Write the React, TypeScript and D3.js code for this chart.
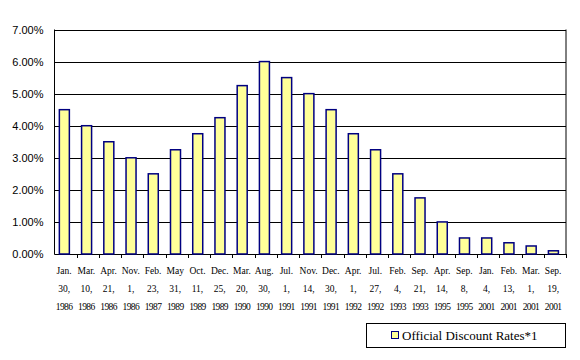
import React from "react";
import * as d3 from "d3";

const months = ["Jan.", "Mar.", "Apr.", "Nov.", "Feb.", "May", "Oct.", "Dec.", "Mar.", "Aug.", "Jul.", "Nov.", "Dec.", "Apr.", "Jul.", "Feb.", "Sep.", "Apr.", "Sep.", "Jan.", "Feb.", "Mar.", "Sep."];
const days = ["30,", "10,", "21,", "1,", "23,", "31,", "11,", "25,", "20,", "30,", "1,", "14,", "30,", "1,", "27,", "4,", "21,", "14,", "8,", "4,", "13,", "1,", "19,"];
const years = ["1986", "1986", "1986", "1986", "1987", "1989", "1989", "1989", "1990", "1990", "1991", "1991", "1991", "1992", "1992", "1993", "1993", "1995", "1995", "2001", "2001", "2001", "2001"];
const rates = [4.5, 4.0, 3.5, 3.0, 2.5, 3.25, 3.75, 4.25, 5.25, 6.0, 5.5, 5.0, 4.5, 3.75, 3.25, 2.5, 1.75, 1.0, 0.5, 0.5, 0.35, 0.25, 0.1];
const yTicks = [0, 1, 2, 3, 4, 5, 6, 7];

const App = () => {
  const width = 580;
  const height = 360;
  const margin = { top: 29.5, right: 14, bottom: 106, left: 54.5 };
  const ids = rates.map((_, i) => String(i));

  const x = d3
    .scaleBand()
    .domain(ids)
    .range([margin.left, width - margin.right])
    .paddingInner(0.55)
    .paddingOuter(0.28)
    .align(0.39);
  const y = d3
    .scaleLinear()
    .domain([0, 7])
    .range([height - margin.bottom, margin.top]);

  const step = x.step();
  const left = margin.left;
  const right = width - margin.right;
  const bottom = y(0);
  const bounds = ids.map((_, i) => left + ((right - left) * (i + 1)) / ids.length);

  return (
    <svg width={width} height={height} style={{ position: "absolute", left: 0, top: 0, background: "#fff" }}>
      {/* grid */}
      {yTicks.map((t) => (
        <line key={t} x1={left} x2={right} y1={Math.round(y(t)) + 0.5} y2={Math.round(y(t)) + 0.5} stroke="#000" strokeWidth={1} />
      ))}
      <line x1={left} x2={left} y1={y(7)} y2={bottom + 0.5} stroke="#000" />
      <line x1={right} x2={right} y1={y(7)} y2={bottom + 0.5} stroke="#000" />
      {/* y labels */}
      {yTicks.map((t) => (
        <text key={t} x={43.5} y={y(t) + 4} textAnchor="end" fontFamily="Liberation Sans, Arial, sans-serif" fontSize={11} fill="#000">
          {t.toFixed(2)}%
        </text>
      ))}
      {/* x ticks */}
      {bounds.map((b, i) => (
        <line key={i} x1={Math.round(b) + 0.5} x2={Math.round(b) + 0.5} y1={bottom} y2={bottom + 4} stroke="#000" />
      ))}
      {/* bars */}
      {rates.map((r, i) => (
        <rect
          key={i}
          x={x(ids[i])!}
          y={y(r)}
          width={x.bandwidth()}
          height={bottom - y(r)}
          fill="#FFFF99"
          stroke="#000080"
          strokeWidth={1.5}
        />
      ))}
      {/* x labels */}
      {ids.map((id, i) => {
        const cx = left + step * (i + 0.5) - 1.5;
        return (
          <g key={id} fontFamily="Liberation Serif, Times New Roman, serif" fontSize={9.5} fill="#000" textAnchor="middle">
            <text x={cx} y={274}>{months[i]}</text>
            <text x={cx} y={292}>{days[i]}</text>
            <text x={cx} y={310} letterSpacing={-0.6}>{years[i]}</text>
          </g>
        );
      })}
      {/* legend */}
      <rect x={366.5} y={323.5} width={199} height={24} fill="#fff" stroke="#000" />
      <rect x={391.5} y={331.5} width={7} height={7} fill="#FFFF99" stroke="#000080" strokeWidth={1} />
      <text x={402} y={340} fontFamily="Liberation Serif, Times New Roman, serif" fontSize={13} fill="#000">
        Official Discount Rates*1
      </text>
    </svg>
  );
};

export default App;
